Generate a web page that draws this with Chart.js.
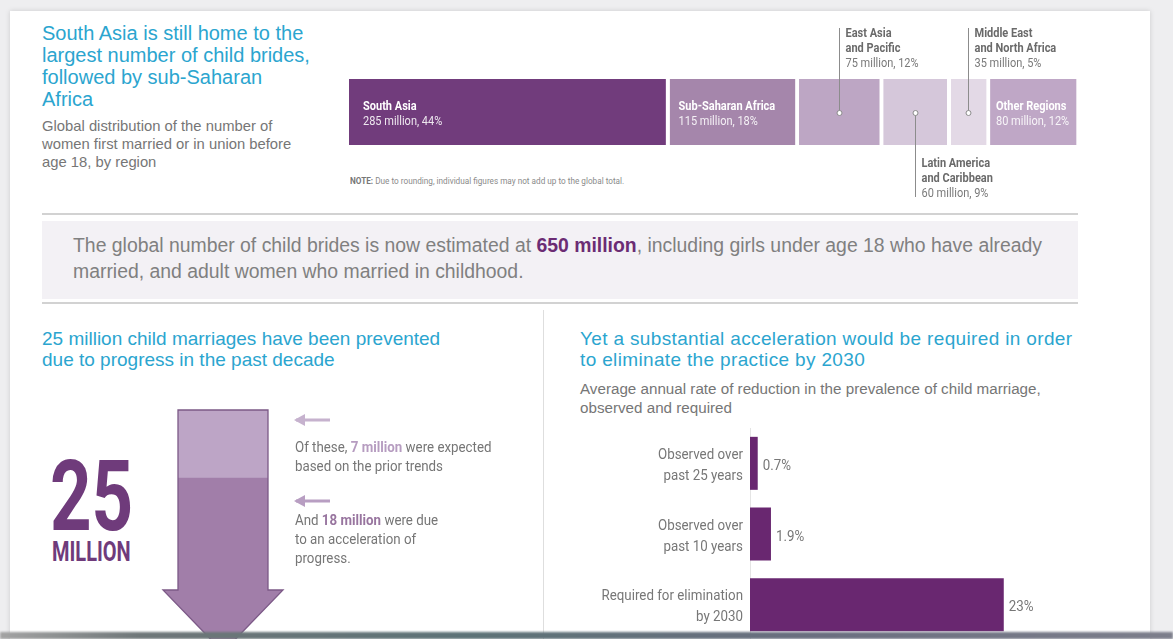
<!DOCTYPE html>
<html>
<head>
<meta charset="utf-8">
<script src="https://cdn.jsdelivr.net/npm/chart.js"></script>
<style>
  html, body { margin: 0; padding: 0; }
  body {
    width: 1173px; height: 639px; position: relative; overflow: hidden;
    background: #eeeef0; font-family: "Liberation Sans", Arial, sans-serif;
  }
  .card {
    position: absolute; left: 10px; top: 11px; width: 1140px; height: 630px;
    background: #fff; box-shadow: 0 0 5px rgba(0,0,0,0.15);
  }
  .abs { position: absolute; white-space: nowrap; }
  .cond { font-family: Roboto, sans-serif; transform-origin: left top; }
  .cyan { color: #2ba5cf; }
  .grey { color: #767676; }
  canvas { position: absolute; }
  .strip {
    position: absolute; left: 0; top: 632px; width: 1173px; height: 7px; z-index: 5;
    background: linear-gradient(90deg, #a3a3a3 0%, #6f7779 12%, #5d7377 40%, #6b6f80 70%, #7d7f8c 100%);
    filter: blur(1px);
  }
</style>
</head>
<body>
<div class="card"></div>

<!-- top block -->
<div class="abs cyan" style="left:42px; top:22px; font-size:20px; line-height:22px;">
  South Asia is still home to the<br>largest number of child brides,<br>followed by sub-Saharan<br>Africa
</div>
<div class="abs grey" style="left:42px; top:117px; font-size:14.8px; line-height:18px;">
  Global distribution of the number of<br>women first married or in union before<br>age 18, by region
</div>
<div class="abs cond" style="left:350px; top:176px; font-size:9px; line-height:10px; color:#8a8a8a; transform:scaleX(0.91);">
  <b style="color:#777">NOTE:</b> Due to rounding, individual figures may not add up to the global total.
</div>
<canvas id="regionChart" style="left:330px; top:15px;" width="770" height="192"></canvas>

<!-- highlight band -->
<div class="abs" style="left:42px; top:213px; width:1036px; height:2px; background:#d2d2d2;"></div>
<div class="abs" style="left:42px; top:221px; width:1036px; height:78px; background:#f3f1f5;"></div>
<div class="abs" style="left:42px; top:302px; width:1036px; height:2px; background:#d2d2d2;"></div>
<div class="abs" style="left:73px; top:232px; font-size:19.4px; line-height:26px; color:#808080;">
  The global number of child brides is now estimated at <b style="color:#6b2c74">650 million</b>, including girls under age 18 who have already<br>married, and adult women who married in childhood.
</div>

<div class="abs" style="left:543px; top:310px; width:1px; height:330px; background:#dedede;"></div>

<!-- bottom left -->
<div class="abs cyan" style="left:42px; top:328px; font-size:19px; line-height:21px;">
  25 million child marriages have been prevented<br>due to progress in the past decade
</div>
<div class="abs cond" style="left:50px; top:448px; font-size:98px; line-height:98px; font-weight:bold; color:#6f3b7b; transform:scaleX(0.74);">25</div>
<div class="abs cond" style="left:52px; top:539px; font-size:27px; line-height:27px; font-weight:bold; color:#6f3b7b; transform:scaleX(0.74);">MILLION</div>
<canvas id="arrowChart" style="left:150px; top:400px;" width="150" height="262"></canvas>

<svg class="abs" style="left:293px; top:412px;" width="40" height="16">
  <path d="M3 8 L37 8" stroke="#c6b2ce" stroke-width="3"/>
  <path d="M1 8 L12 2 L12 14 Z" fill="#c6b2ce"/>
</svg>
<div class="abs cond grey" style="left:295px; top:438px; font-size:14.8px; line-height:19px; transform:scaleX(0.9);">
  Of these, <b style="color:#b69cc0">7 million</b> were expected<br>based on the prior trends
</div>
<svg class="abs" style="left:293px; top:493px;" width="40" height="16">
  <path d="M3 8 L37 8" stroke="#b89ec2" stroke-width="3"/>
  <path d="M1 8 L12 2 L12 14 Z" fill="#b89ec2"/>
</svg>
<div class="abs cond grey" style="left:295px; top:511px; font-size:14.8px; line-height:19px; transform:scaleX(0.9);">
  And <b style="color:#98759f">18 million</b> were due<br>to an acceleration of<br>progress.
</div>

<!-- bottom right -->
<div class="abs cyan" style="left:580px; top:328px; font-size:19px; line-height:21px; letter-spacing:0.35px;">
  Yet a substantial acceleration would be required in order<br>to eliminate the practice by 2030
</div>
<div class="abs grey" style="left:580px; top:379px; font-size:15.2px; line-height:19px;">
  Average annual rate of reduction in the prevalence of child marriage,<br>observed and required
</div>
<canvas id="rateChart" style="left:580px; top:428px;" width="520" height="212"></canvas>

<div class="strip"></div>

<script>
// regional distribution of child brides (millions, share of total)
const regions = ["South Asia", "Sub-Saharan Africa", "East Asia and Pacific",
  "Latin America and Caribbean", "Middle East and North Africa", "Other Regions"];
const brideMillions = [285, 115, 75, 60, 35, 80];
const brideShares = [44, 18, 12, 9, 5, 12];

// prevented marriages (millions): expected from prior trends, due to acceleration
const preventedParts = ["Expected from prior trends", "Acceleration of progress"];
const preventedMillions = [7, 18];

// annual rate of reduction (%)
const rateLabels = [["Observed over", "past 25 years"], ["Observed over", "past 10 years"],
  ["Required for elimination", "by 2030"]];
const rateValues = [0.7, 1.9, 23];

const regionColors = ["#713c7c", "#a586ab", "#bda6c4", "#d5c7da", "#e3d9e6", "#bfa7c6"];
// small segments get a callout instead of an inside label
const calloutSide = { 2: "above", 3: "below", 4: "above" };
const insideInset = { 0: 14, 1: 9, 5: 6 };

// narrow label text: Roboto squeezed horizontally
function condText(ctx, text, x, y, size, bold, color, align = "left", sx = 0.88) {
  ctx.save();
  ctx.translate(x, y);
  ctx.scale(sx, 1);
  ctx.font = `${bold ? "bold " : ""}${size}px Roboto`;
  ctx.fillStyle = color;
  ctx.textAlign = align;
  ctx.fillText(text, 0, 0);
  ctx.restore();
}

const regionLabels = {
  id: "regionLabels",
  afterDatasetsDraw(chart) {
    const ctx = chart.ctx;
    ctx.save();
    ctx.textBaseline = "alphabetic";
    chart.data.datasets.forEach((ds, i) => {
      const bar = chart.getDatasetMeta(i).data[0];
      const left = bar.base;
      const right = bar.x - 4;
      const top = bar.y - bar.height / 2;
      const valueText = `${ds.data[0]} million, ${brideShares[i]}%`;
      const side = calloutSide[i];
      if (!side) {
        const inset = insideInset[i];
        condText(ctx, ds.label, left + inset, top + 31, 12.5, true, "#ffffff");
        condText(ctx, valueText, left + inset, top + 46, 12.5, false, "rgba(255,255,255,0.88)");
        return;
      }
      const cx = Math.round((left + right) / 2) + 0.5;
      const cy = bar.y + 1;
      const lines = ds.label.split(" and ");
      lines[1] = "and " + lines[1];
      ctx.strokeStyle = "#8c8c8c";
      ctx.lineWidth = 1;
      ctx.beginPath();
      ctx.moveTo(cx, cy);
      ctx.lineTo(cx, side === "above" ? 13 : 182);
      ctx.stroke();
      ctx.beginPath();
      ctx.arc(cx, cy, 2.5, 0, Math.PI * 2);
      ctx.fillStyle = "#ffffff";
      ctx.fill();
      ctx.stroke();
      const y0 = side === "above" ? 22 : 152;
      condText(ctx, lines[0], cx + 6, y0, 12.5, true, "#6a6a6a");
      condText(ctx, lines[1], cx + 6, y0 + 15, 12.5, true, "#6a6a6a");
      condText(ctx, valueText, cx + 6, y0 + 30, 12.5, false, "#7a7a7a");
    });
    ctx.restore();
  }
};

new Chart(document.getElementById("regionChart"), {
  type: "bar",
  data: {
    labels: ["Global"],
    datasets: regions.map((name, i) => ({
      label: name,
      data: [brideMillions[i]],
      backgroundColor: regionColors[i],
      borderColor: "#ffffff",
      borderWidth: { left: 0, top: 0, bottom: 0, right: 4 },
      borderSkipped: false,
      barPercentage: 1,
      categoryPercentage: 1,
    })),
  },
  options: {
    indexAxis: "y",
    responsive: false,
    animation: false,
    layout: { padding: { left: 19, right: 20, top: 64, bottom: 62 } },
    plugins: { legend: { display: false }, tooltip: { enabled: false } },
    scales: {
      x: { stacked: true, min: 0, max: 650, display: false },
      y: { stacked: true, display: false },
    },
  },
  plugins: [regionLabels],
});

// arrow made of the two stacked parts, head added at the end
const arrowShape = {
  id: "arrowShape",
  afterDatasetsDraw(chart) {
    const ctx = chart.ctx;
    const first = chart.getDatasetMeta(0).data[0];
    const second = chart.getDatasetMeta(1).data[0];
    const x = first.x;
    const half = first.width / 2;
    const headHalf = half + 15;
    const headH = 62;
    const yTop = first.base;
    const ySplit = first.y;
    const yTip = second.y;
    const outline = () => {
      ctx.beginPath();
      ctx.moveTo(x - half, yTop);
      ctx.lineTo(x + half, yTop);
      ctx.lineTo(x + half, yTip - headH);
      ctx.lineTo(x + headHalf, yTip - headH);
      ctx.lineTo(x, yTip);
      ctx.lineTo(x - headHalf, yTip - headH);
      ctx.lineTo(x - half, yTip - headH);
      ctx.closePath();
    };
    ctx.save();
    outline();
    ctx.fillStyle = "#a17ea9";
    ctx.fill();
    ctx.fillStyle = "#bda5c6";
    ctx.fillRect(x - half, yTop, half * 2, ySplit - yTop);
    outline();
    ctx.strokeStyle = "#7c5987";
    ctx.lineWidth = 1.3;
    ctx.stroke();
    ctx.restore();
  }
};

new Chart(document.getElementById("arrowChart"), {
  type: "bar",
  data: {
    labels: ["Prevented"],
    datasets: preventedParts.map((name, i) => ({
      label: name,
      data: [preventedMillions[i]],
      backgroundColor: "rgba(0,0,0,0)",
      barThickness: 90,
    })),
  },
  options: {
    responsive: false,
    animation: false,
    layout: { padding: { left: 0, right: 4, top: 10, bottom: 10 } },
    plugins: { legend: { display: false }, tooltip: { enabled: false } },
    scales: {
      x: { stacked: true, display: false },
      y: { stacked: true, reverse: true, min: 0, max: 25, display: false },
    },
  },
  plugins: [arrowShape],
});

// category names to the left of the axis, values at the bar ends
const rateText = {
  id: "rateText",
  afterDatasetsDraw(chart) {
    const ctx = chart.ctx;
    const yScale = chart.scales.y;
    const left = chart.chartArea.left;
    ctx.save();
    ctx.textBaseline = "middle";
    chart.data.labels.forEach((lines, i) => {
      const cy = yScale.getPixelForTick(i);
      condText(ctx, lines[0], left - 7, cy - 8, 14.5, false, "#777", "right", 0.92);
      condText(ctx, lines[1], left - 7, cy + 13, 14.5, false, "#777", "right", 0.92);
    });
    chart.getDatasetMeta(0).data.forEach((bar, i) => {
      condText(ctx, rateValues[i] + "%", bar.x + 5, bar.y + 3, 14.5, false, "#777", "left", 0.92);
    });
    ctx.restore();
  }
};

new Chart(document.getElementById("rateChart"), {
  type: "bar",
  data: {
    labels: rateLabels,
    datasets: [{
      data: rateValues,
      backgroundColor: "#692770",
      barPercentage: 0.75,
      categoryPercentage: 1,
    }],
  },
  options: {
    indexAxis: "y",
    responsive: false,
    animation: false,
    layout: { padding: { left: 0, right: 19, top: 0, bottom: 0 } },
    plugins: { legend: { display: false }, tooltip: { enabled: false } },
    scales: {
      x: { min: 0, max: 30, display: false },
      y: {
        afterFit(scale) { scale.width = 170; },
        grid: { display: false, drawTicks: false },
        border: { display: true, color: "#e4e4e4" },
        ticks: { display: false },
      },
    },
  },
  plugins: [rateText],
});
</script>
</body>
</html>
